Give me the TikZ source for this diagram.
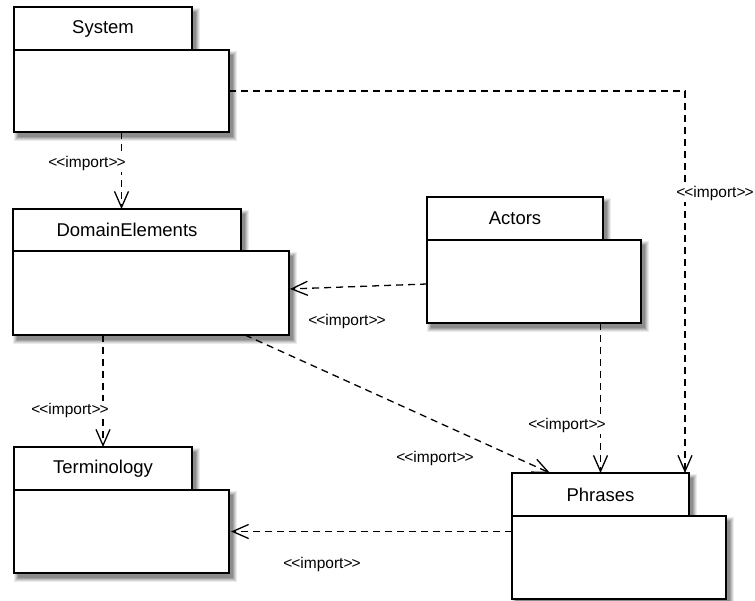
\documentclass[tikz,border=0pt]{standalone}
\usepackage{fontspec}
\setmainfont{Liberation Sans}
\usetikzlibrary{arrows.meta}
\newcommand\importlbl{<\kern-1pt<import>\kern-1pt>}
\newcommand\pkgshade[4]{%
  \fill[gray!16] (#1,#2+1) rectangle (#3+8,#4+9);
  \fill[gray!32] (#1+1,#2+2) rectangle (#3+7,#4+8);
  \fill[gray!52] (#1+2,#2+3) rectangle (#3+6,#4+7);
  \fill[gray!72] (#1+3,#2+4) rectangle (#3+5,#4+6);
  \fill[gray!90] (#1+4,#2+5) rectangle (#3+4,#4+5);
}
\begin{document}
\begin{tikzpicture}[x=1pt,y=-1pt,
  pkg/.style={draw=black, fill=white, line width=1.6pt, inner sep=0pt, outer sep=0pt},
  pkgbody/.style={pkg, anchor=north west},
  pkgtab/.style={pkg, anchor=south west, font=\fontsize{18.5}{22}\selectfont},
  dep/.style={line width=1.3pt, dash pattern=on 7pt off 5pt,
    -{Straight Barb[length=16pt,width=14pt,line width=1.3pt]}},
  lbl/.style={fill=white, inner sep=1.5pt, font=\fontsize{15.5}{18}\selectfont}]
\useasboundingbox (0,0) rectangle (755,601);
% soft drop shadows (tab, then body)
\pkgshade{14}{7}{192}{50}
\pkgshade{14}{50}{229}{132}
\pkgshade{13}{209}{241}{251}
\pkgshade{13}{251}{289}{335}
\pkgshade{427}{197}{603}{240}
\pkgshade{427}{240}{641}{323}
\pkgshade{14}{447}{192}{490}
\pkgshade{14}{490}{229}{573}
\pkgshade{512}{473}{689}{516}
\pkgshade{512}{516}{726}{599}
% System
\node[pkgtab, minimum width=178pt, minimum height=43pt] (syst) at (14,50) {System};
\node[pkgbody, minimum width=215pt, minimum height=82pt] (sysb) at (14,50) {};
% DomainElements
\node[pkgtab, minimum width=228pt, minimum height=42pt] (domt) at (13,251) {DomainElements};
\node[pkgbody, minimum width=276pt, minimum height=84pt] (domb) at (13,251) {};
% Actors
\node[pkgtab, minimum width=176pt, minimum height=43pt] (actt) at (427,240) {Actors};
\node[pkgbody, minimum width=214pt, minimum height=83pt] (actb) at (427,240) {};
% Terminology
\node[pkgtab, minimum width=178pt, minimum height=43pt] (termt) at (14,490) {Terminology};
\node[pkgbody, minimum width=215pt, minimum height=83pt] (termb) at (14,490) {};
% Phrases
\node[pkgtab, minimum width=177pt, minimum height=43pt] (phrt) at (512,516) {Phrases};
\node[pkgbody, minimum width=214pt, minimum height=83pt] (phrb) at (512,516) {};
% connectors
\draw[dep] (sysb.south) -- (sysb.south |- domt.north);
\draw[dep, shorten >=1pt] ([yshift=-2.5pt]actb.west) -- ([yshift=4pt]domb.east);
\draw[dep] (termt.north |- domb.south) -- (termt.north);
\draw[dep] ([xshift=-44pt]domb.south east) -- ([xshift=38pt]phrt.north west);
\draw[dep] (phrt.north |- actb.south) -- (phrt.north);
\draw[dep] (sysb.east) -| ([xshift=-4pt]phrt.north east);
\draw[dep, shorten >=2pt] (termb.east -| phrb.west) -- (termb.east);
% labels
\node[lbl] (l1) at (87,163) {\importlbl};
\node[lbl] (l2) at (347,321) {\importlbl};
\node[lbl] (l3) at (70,410) {\importlbl};
\node[lbl] (l4) at (435,458) {\importlbl};
\node[lbl] (l5) at (567,425) {\importlbl};
\node[lbl] (l6) at (715,193) {\importlbl};
\node[lbl] (l7) at (322,564) {\importlbl};
\end{tikzpicture}
\end{document}
